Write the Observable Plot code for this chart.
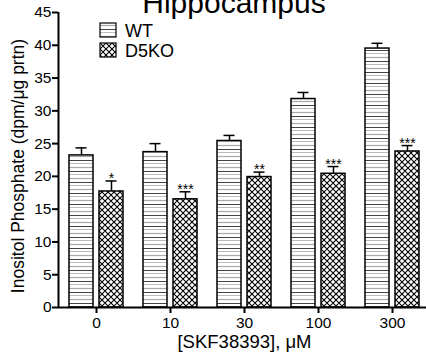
<!DOCTYPE html>
<html>
<head>
<meta charset="utf-8">
<script src="https://cdn.jsdelivr.net/npm/d3@7"></script>
<script src="https://cdn.jsdelivr.net/npm/@observablehq/plot@0.6"></script>
<style>
  html, body { margin: 0; padding: 0; background: #fff; }
  #chart { width: 426px; height: 357px; overflow: hidden; }
</style>
</head>
<body>
<div id="chart"></div>
<script>
const title = "Hippocampus";
const yLabel = "Inositol Phosphate (dpm/\u03bcg prtn)";
const xLabel = "[SKF38393], \u03bcM";
const concentrations = ["0", "10", "30", "100", "300"];
const wtMean = [23.2, 23.7, 25.4, 31.8, 39.5];
const wtSem  = [1.15, 1.3, 0.85, 1.0, 0.8];
const koMean = [17.7, 16.5, 19.9, 20.4, 23.8];
const koSem  = [1.6, 1.15, 0.75, 1.1, 0.9];
const koSig  = ["*", "***", "**", "***", "***"];
const yTicks = [0, 5, 10, 15, 20, 25, 30, 35, 40, 45];
const seriesNames = ["WT", "D5KO"];

const wt = concentrations.map((c, i) => ({c, mean: wtMean[i], top: wtMean[i] + wtSem[i]}));
const ko = concentrations.map((c, i) => ({c, mean: koMean[i], top: koMean[i] + koSem[i], sig: koSig[i]}));

const font = "'Liberation Sans', Arial, Helvetica, sans-serif";

const chart = Plot.plot({
  width: 426,
  height: 357,
  marginLeft: 58,
  marginRight: 0,
  marginTop: 12,
  marginBottom: 50,
  style: {fontFamily: font, fontSize: "15.5px", color: "#000", background: "#fff", overflow: "visible"},
  x: {domain: concentrations, range: [59, 429], padding: 0},
  y: {domain: [0, 45]},
  marks: [
    Plot.barY(wt, {x: "c", y: "mean", fill: "url(#hatchWT)", stroke: "#000", strokeWidth: 1.5, insetLeft: 10, insetRight: 40}),
    Plot.barY(ko, {x: "c", y: "mean", fill: "url(#hatchKO)", stroke: "#000", strokeWidth: 1.5, insetLeft: 40, insetRight: 10}),
    Plot.ruleX(wt, {x: "c", y1: "mean", y2: "top", dx: -15, strokeWidth: 1.5}),
    Plot.ruleX(ko, {x: "c", y1: "mean", y2: "top", dx: 15, strokeWidth: 1.5}),
    Plot.tickY(wt, {x: "c", y: "top", insetLeft: 16.5, insetRight: 46.5, strokeWidth: 1.5}),
    Plot.tickY(ko, {x: "c", y: "top", insetLeft: 46.5, insetRight: 16.5, strokeWidth: 1.5}),
    Plot.text(ko, {x: "c", y: "top", text: "sig", dx: 15, dy: 2, lineAnchor: "bottom", fontSize: 14, fill: "#000"}),
    Plot.axisY({ticks: yTicks, tickSize: 6, tickPadding: 1, label: null, strokeWidth: 2}),
    Plot.axisX({tickSize: 6, tickPadding: 3, label: null, strokeWidth: 2}),
    Plot.ruleY([0], {strokeWidth: 2}),
    Plot.ruleX([concentrations[0]], {y1: 0, y2: 45, dx: -38, strokeWidth: 2}),
    Plot.text([yLabel], {frameAnchor: "left", textAnchor: "middle", rotate: -90, dx: -40, dy: 6, fontSize: 17.5, fill: "#000"}),
    Plot.text([xLabel], {frameAnchor: "bottom", dx: 2, dy: 40, fontSize: 18.5, fill: "#000"})
  ]
});

const svg = d3.select(chart);
const defs = svg.insert("defs", ":first-child");
const pWT = defs.append("pattern").attr("id", "hatchWT").attr("patternUnits", "userSpaceOnUse")
  .attr("width", 8).attr("height", 11);
pWT.append("rect").attr("width", 8).attr("height", 11).attr("fill", "#fff");
pWT.append("line").attr("x1", 0).attr("x2", 8).attr("y1", 2.5).attr("y2", 2.5).attr("stroke", "#aaa").attr("stroke-width", 1.2);
pWT.append("line").attr("x1", 0).attr("x2", 8).attr("y1", 6.5).attr("y2", 6.5).attr("stroke", "#444").attr("stroke-width", 1);
pWT.append("line").attr("x1", 0).attr("x2", 8).attr("y1", 9.5).attr("y2", 9.5).attr("stroke", "#bbb").attr("stroke-width", 1);

const pKO = defs.append("pattern").attr("id", "hatchKO").attr("patternUnits", "userSpaceOnUse")
  .attr("width", 6).attr("height", 6);
pKO.append("rect").attr("width", 6).attr("height", 6).attr("fill", "#fff");
pKO.append("path").attr("d", "M0,0L6,6M6,0L0,6M-3,3L3,9M3,-3L9,3M-3,3L3,-3M3,9L9,3")
  .attr("stroke", "#000").attr("stroke-width", 1.1).attr("fill", "none");

// title
svg.append("text").attr("x", 234).attr("y", 13).attr("text-anchor", "middle")
  .attr("font-family", font).attr("font-size", 30).attr("fill", "#000").text(title);

// legend
const leg = svg.append("g").attr("font-family", font).attr("font-size", 18).attr("text-anchor", "start");
seriesNames.forEach((name, i) => {
  const g = leg.append("g").attr("transform", `translate(100,${23 + i * 20})`);
  g.append("rect").attr("width", 16).attr("height", 14)
    .attr("fill", i === 0 ? "url(#hatchWT)" : "url(#hatchKO)").attr("stroke", "#000").attr("stroke-width", 1.2);
  g.append("text").attr("x", 25).attr("y", 14).attr("text-anchor", "start").attr("fill", "#000").text(name);
});

document.getElementById("chart").appendChild(chart);
</script>
</body>
</html>
